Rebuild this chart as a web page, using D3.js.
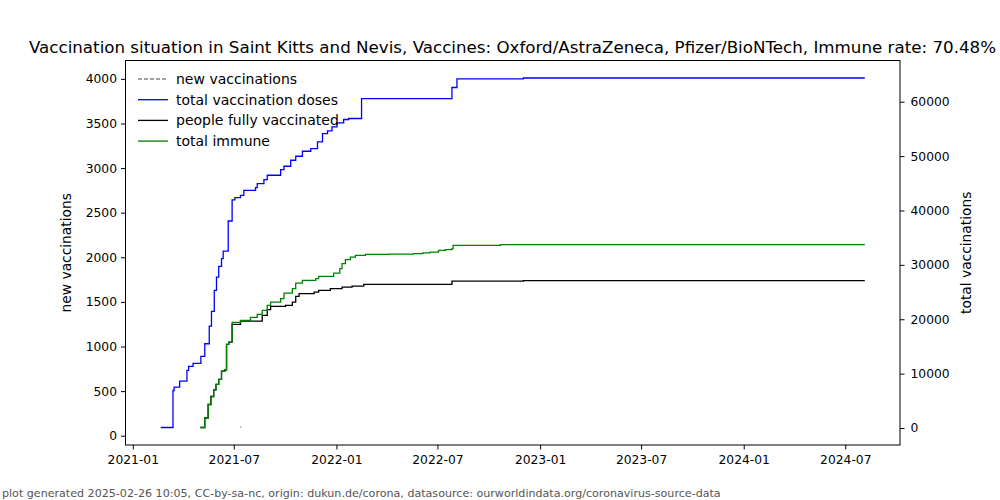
<!DOCTYPE html>
<html>
<head>
<meta charset="utf-8">
<script src="https://cdn.jsdelivr.net/npm/d3@7"></script>
<style>
  html, body { margin: 0; padding: 0; background: #fff; }
  svg { display: block; }
  text { font-family: "DejaVu Sans", sans-serif; }
</style>
</head>
<body>
<svg id="chart" width="1000" height="500"></svg>
<script>
// ---------- data ----------
const titleText = "Vaccination situation in Saint Kitts and Nevis, Vaccines: Oxford/AstraZeneca, Pfizer/BioNTech, Immune rate: 70.48%";
const footerText = "plot generated 2025-02-26 10:05, CC-by-sa-nc, origin: dukun.de/corona, datasource: ourworldindata.org/coronavirus-source-data";

const seriesNames = ["new vaccinations", "total vaccination doses", "people fully vaccinated", "total immune"];

// new vaccinations (left axis) - only a tiny fragment is visible
const newVaccDates = ["2021-07-12", "2021-07-14"];
const newVaccValues = [95, 100];
const leftDomain = [-104, 4206];

// total vaccination doses (right axis), step changes
const totalDosesDates = ["2021-02-20","2021-03-14","2021-03-16","2021-03-26","2021-04-08","2021-04-11","2021-04-19","2021-05-03","2021-05-10","2021-05-18","2021-05-22","2021-05-27","2021-05-31","2021-06-04","2021-06-09","2021-06-12","2021-06-21","2021-06-28","2021-07-03","2021-07-13","2021-07-19","2021-08-09","2021-08-12","2021-08-24","2021-08-30","2021-09-23","2021-09-29","2021-10-11","2021-10-20","2021-11-01","2021-11-16","2021-11-28","2021-12-07","2021-12-16","2021-12-24","2022-01-02","2022-01-14","2022-01-23","2022-02-15","2022-07-27","2022-08-05","2022-12-02","2024-08-05"];
const totalDosesValues = [90,6902,7510,8614,10583,11320,11872,13160,15498,18738,21443,25308,27756,29726,31143,32542,38064,41966,42370,42794,43714,44211,44947,45684,46475,47525,48132,49236,49973,50893,51390,52604,54151,54629,55366,56102,56728,56912,60556,62618,64200,64366,64366];

// people fully vaccinated
const fullyDates = ["2021-05-02","2021-05-10","2021-05-16","2021-05-21","2021-05-26","2021-05-30","2021-06-04","2021-06-09","2021-06-15","2021-06-18","2021-06-22","2021-06-28","2021-07-13","2021-08-21","2021-08-30","2021-09-05","2021-10-02","2021-10-14","2021-10-20","2021-10-26","2021-11-22","2021-11-30","2021-12-21","2022-01-11","2022-01-29","2022-02-19","2022-07-27","2022-12-02","2024-08-05"];
const fullyValues = [92,1841,4325,5798,7031,8007,8927,10455,10712,15369,15792,19050,19657,20707,21756,22363,22547,23155,24204,24701,24995,25308,25621,25916,26100,26413,27020,27094,27094];

// total immune
const immuneDates = ["2021-05-02","2021-05-10","2021-05-16","2021-05-21","2021-05-26","2021-05-30","2021-06-04","2021-06-09","2021-06-15","2021-06-18","2021-06-22","2021-06-28","2021-07-13","2021-07-31","2021-08-12","2021-08-21","2021-08-30","2021-09-05","2021-09-23","2021-09-29","2021-10-14","2021-10-20","2021-11-01","2021-11-25","2021-11-30","2021-12-27","2022-01-07","2022-01-11","2022-01-17","2022-01-26","2022-02-04","2022-02-22","2022-04-05","2022-05-19","2022-06-05","2022-06-18","2022-07-03","2022-07-15","2022-07-27","2022-07-29","2022-10-22","2024-08-05"];
const immuneValues = [92,1841,4325,5798,7031,8007,8927,10455,10712,15369,15792,19418,19786,20339,20891,21627,22547,23155,23781,24811,25621,26652,27149,27462,27885,28493,29303,30223,30959,31438,31750,31934,31990,32063,32200,32358,32671,32820,32984,33591,33720,33720];

const leftTicks = [0,500,1000,1500,2000,2500,3000,3500,4000];
const rightTicks = [0,10000,20000,30000,40000,50000,60000];
const xTickDates = ["2021-01-01","2021-07-01","2022-01-01","2022-07-01","2023-01-01","2023-07-01","2024-01-01","2024-07-01"];

// ---------- layout ----------
const W = 1000, H = 500;
const plot = { left: 125.5, right: 900, top: 60.5, bottom: 445 };
const parse = d3.utcParse("%Y-%m-%d");

const zip = (ds, vs) => ds.map((d, i) => ({ date: parse(d), value: vs[i] }));
const newVacc = zip(newVaccDates, newVaccValues);
const totalDoses = zip(totalDosesDates, totalDosesValues);
const fully = zip(fullyDates, fullyValues);
const immune = zip(immuneDates, immuneValues);

const allTotals = totalDoses.concat(fully, immune);
const xExt = d3.extent(allTotals, d => d.date);
const xPad = (xExt[1] - xExt[0]) * 0.05;
const x = d3.scaleUtc()
  .domain([new Date(+xExt[0] - xPad), new Date(+xExt[1] + xPad)])
  .range([plot.left, plot.right]);

const yExt = d3.extent(allTotals, d => d.value);
const yPad = (yExt[1] - yExt[0]) * 0.05;
const yR = d3.scaleLinear().domain([yExt[0] - yPad, yExt[1] + yPad]).range([plot.bottom, plot.top]);
const yL = d3.scaleLinear().domain(leftDomain).range([plot.bottom, plot.top]);

const svg = d3.select("#chart");
svg.append("rect").attr("width", W).attr("height", H).attr("fill", "#fff");

svg.append("clipPath").attr("id", "clip").append("rect")
  .attr("x", plot.left).attr("y", plot.top)
  .attr("width", plot.right - plot.left).attr("height", plot.bottom - plot.top);

const g = svg.append("g").attr("clip-path", "url(#clip)");

const lineR = d3.line().x(d => x(d.date)).y(d => yR(d.value)).curve(d3.curveStepAfter);
const lineL = d3.line().x(d => x(d.date)).y(d => yL(d.value));

g.append("path").datum(newVacc).attr("d", lineL)
  .attr("fill", "none").attr("stroke", "#808080").attr("stroke-width", 1.3).attr("stroke-dasharray", "4,2");
g.append("path").datum(totalDoses).attr("d", lineR)
  .attr("fill", "none").attr("stroke", "#0000ff").attr("stroke-width", 1.3);
g.append("path").datum(fully).attr("d", lineR)
  .attr("fill", "none").attr("stroke", "#000000").attr("stroke-width", 1.3);
g.append("path").datum(immune).attr("d", lineR)
  .attr("fill", "none").attr("stroke", "#008000").attr("stroke-width", 1.3);

// axes
const fontSize = 12.3;
const axB = d3.axisBottom(x).tickValues(xTickDates.map(parse)).tickFormat(d3.utcFormat("%Y-%m")).tickSize(4.5).tickPadding(5.5);
const axL = d3.axisLeft(yL).tickValues(leftTicks).tickFormat(d3.format("d")).tickSize(4.5).tickPadding(4);
const axR = d3.axisRight(yR).tickValues(rightTicks).tickFormat(d3.format("d")).tickSize(4.5).tickPadding(6);

function styleAxis(sel) {
  sel.select(".domain").remove();
  sel.selectAll(".tick line").attr("stroke", "#000").attr("stroke-width", 1);
  sel.selectAll(".tick text").attr("fill", "#000").style("font-family", "DejaVu Sans").style("font-size", fontSize + "px");
}
svg.append("g").attr("transform", `translate(0,${plot.bottom})`).call(axB).call(styleAxis);
svg.append("g").attr("transform", `translate(${plot.left},0)`).call(axL).call(styleAxis);
svg.append("g").attr("transform", `translate(${plot.right},0)`).call(axR).call(styleAxis);

// frame
svg.append("rect").attr("x", plot.left).attr("y", plot.top)
  .attr("width", plot.right - plot.left).attr("height", plot.bottom - plot.top)
  .attr("fill", "none").attr("stroke", "#000").attr("stroke-width", 1);

// axis labels
svg.append("text").attr("transform", `translate(71,${(plot.top + plot.bottom) / 2}) rotate(-90)`)
  .attr("text-anchor", "middle").style("font-size", "13.8px").text("new vaccinations");
svg.append("text").attr("transform", `translate(971,${(plot.top + plot.bottom) / 2}) rotate(-90)`)
  .attr("text-anchor", "middle").style("font-size", "13.8px").text("total vaccinations");

// title
svg.append("text").attr("x", 512.5).attr("y", 53).attr("text-anchor", "middle")
  .style("font-size", "16.7px").text(titleText);

// footer
svg.append("text").attr("x", 2).attr("y", 497).attr("fill", "#555")
  .style("font-size", "11.1px").text(footerText);

// legend
const legendItems = [
  { name: seriesNames[0], color: "#808080", dash: "4,2" },
  { name: seriesNames[1], color: "#0000ff", dash: null },
  { name: seriesNames[2], color: "#000000", dash: null },
  { name: seriesNames[3], color: "#008000", dash: null }
];
const lg = svg.append("g");
legendItems.forEach((it, i) => {
  const yy = 79 + i * 20.7;
  lg.append("line").attr("x1", 138).attr("x2", 168).attr("y1", yy).attr("y2", yy)
    .attr("stroke", it.color).attr("stroke-width", 1.3).attr("stroke-dasharray", it.dash);
  lg.append("text").attr("x", 176).attr("y", yy + 5).style("font-size", "14px").text(it.name);
});
</script>
</body>
</html>
